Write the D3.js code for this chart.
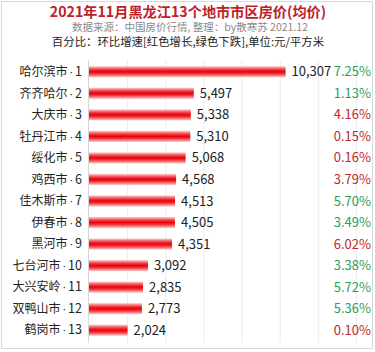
<!DOCTYPE html>
<html><head><meta charset="utf-8">
<script src="https://cdn.jsdelivr.net/npm/d3@7/dist/d3.min.js"></script>
<style>body{margin:0;background:#fff;}svg{display:block;font-family:"Microsoft YaHei","Noto Sans CJK SC",sans-serif;}</style>
</head><body><svg id="c" width="375" height="352"></svg>
<script>
const cities = ["哈尔滨市","齐齐哈尔","大庆市","牡丹江市","绥化市","鸡西市","佳木斯市","伊春市","黑河市","七台河市","大兴安岭","双鸭山市","鹤岗市"];
const prices = [10307,5497,5338,5310,5068,4568,4513,4505,4351,3092,2835,2773,2024];
const changes = ["7.25%","1.13%","4.16%","0.15%","0.16%","3.79%","5.70%","3.49%","6.02%","3.38%","5.72%","5.36%","0.10%"];
const rising = [false,false,true,true,true,true,false,false,true,false,false,false,true];
const ticks = [0,2000,4000,6000,8000,10000,12000,14000];
const title = "2021年11月黑龙江13个地市市区房价(均价)";
const subtitle = "数据来源：中国房价行情, 整理：by散寒苏 2021.12";
const note = "百分比：环比增速[红色增长,绿色下跌],单位:元/平方米";

const svg = d3.select("#c");
svg.append("rect").attr("x",1.5).attr("y",1.5).attr("width",371).attr("height",347)
  .attr("fill","#fff").attr("stroke","#d9d9d9");

svg.append("text").attr("x",188).attr("y",17).attr("text-anchor","middle")
  .attr("font-size",14.2).attr("font-weight","bold").attr("fill","#c0202a").text(title);
svg.append("text").attr("x",190).attr("y",31).attr("text-anchor","middle")
  .attr("font-size",10.5).attr("fill","#8a8a8a").text(subtitle);
svg.append("text").attr("x",188).attr("y",46).attr("text-anchor","middle")
  .attr("font-size",11.4).attr("fill","#222").text(note);

const x = d3.scaleLinear().domain([0,14000]).range([89,356]);
const y = d3.scaleBand().domain(cities).range([61,341]).paddingInner(0.48).paddingOuter(0.24);

const defs = svg.append("defs");
const g = defs.append("linearGradient").attr("id","bar").attr("x1",0).attr("y1",0).attr("x2",0).attr("y2",1);
g.append("stop").attr("offset","0%").attr("stop-color","#fbd0d0");
g.append("stop").attr("offset","30%").attr("stop-color","#f03a40");
g.append("stop").attr("offset","50%").attr("stop-color","#e8000b");
g.append("stop").attr("offset","70%").attr("stop-color","#f03a40");
g.append("stop").attr("offset","100%").attr("stop-color","#fbd0d0");

svg.append("g").selectAll("line").data(ticks.slice(1)).join("line")
  .attr("x1",d=>x(d)+0.5).attr("x2",d=>x(d)+0.5).attr("y1",60).attr("y2",343)
  .attr("stroke","#ececec");
svg.append("line").attr("x1",x(0)-0.5).attr("x2",x(0)-0.5).attr("y1",60).attr("y2",343).attr("stroke","#d6d6d6");

svg.append("g").selectAll("rect").data(cities).join("rect")
  .attr("x",x(0)).attr("y",d=>y(d)).attr("height",y.bandwidth())
  .attr("width",(d,i)=>x(prices[i])-x(0)).attr("fill","url(#bar)");

const lab = svg.append("g").selectAll("text").data(cities).join("text")
  .attr("x",82).attr("y",d=>y(d)+y.bandwidth()/2).attr("dy","0.35em")
  .attr("text-anchor","end").attr("font-size",12).attr("fill","#222");
lab.append("tspan").text(d=>d);
lab.append("tspan").attr("dx",2).attr("font-family","DejaVu Sans").attr("font-size",11).text("·");
lab.append("tspan").attr("dx",2).attr("font-size",12.5).text((d,i)=>i+1);

svg.append("g").selectAll("text").data(prices).join("text")
  .attr("x",d=>x(d)+6).attr("y",(d,i)=>y(cities[i])+y.bandwidth()/2).attr("dy","0.35em")
  .attr("font-size",13).attr("fill","#222").text(d=>d3.format(",")(d));

svg.append("g").selectAll("text").data(changes).join("text")
  .attr("x",371).attr("y",(d,i)=>y(cities[i])+y.bandwidth()/2).attr("dy","0.35em")
  .attr("text-anchor","end").attr("font-size",13)
  .attr("fill",(d,i)=>rising[i]?"#c0282c":"#2e9e5b").text(d=>d);
</script></body></html>
